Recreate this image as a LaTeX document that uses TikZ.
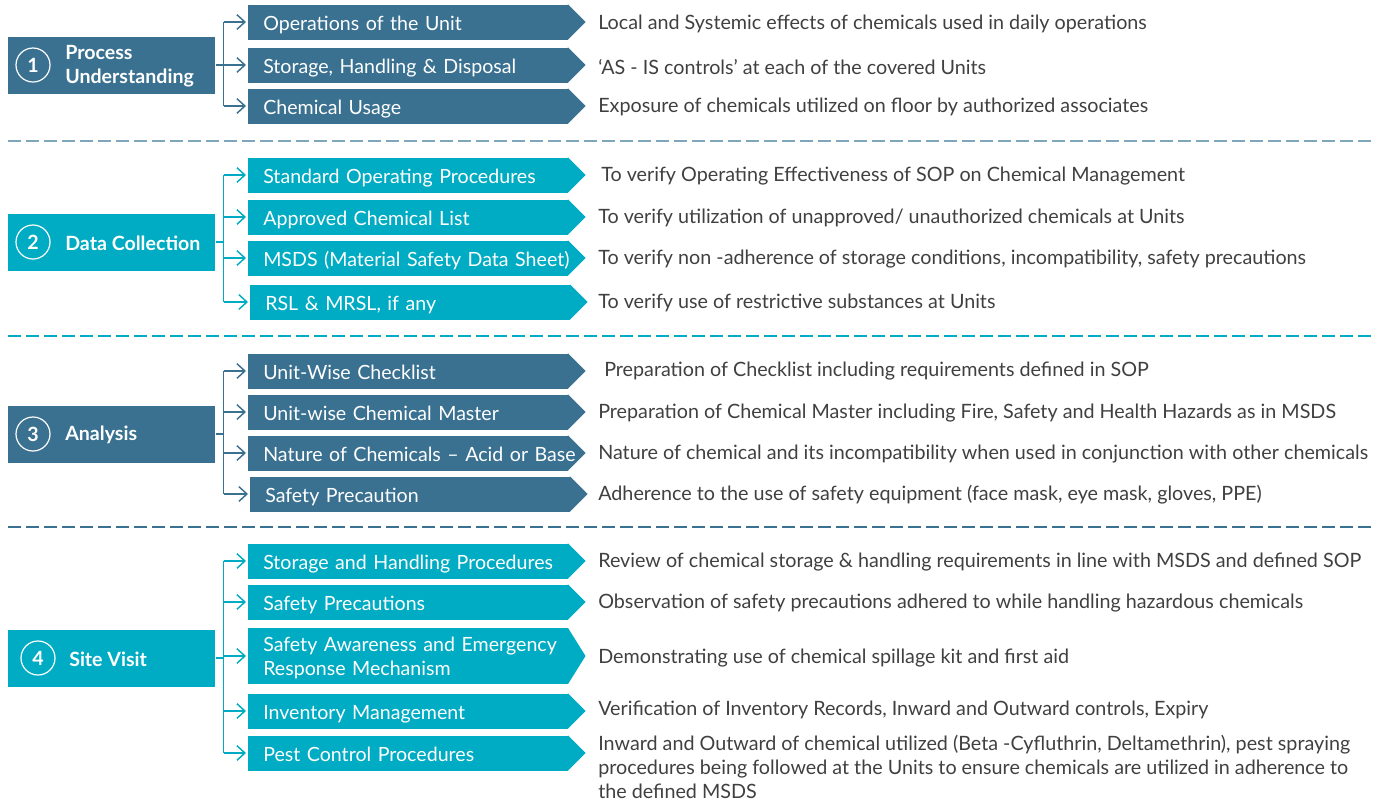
\documentclass[tikz,border=0pt]{standalone}
\usepackage{fontspec}
\setmainfont{Lato}
\usetikzlibrary{arrows.meta,backgrounds}
\definecolor{steelc}{HTML}{3A7191}
\definecolor{tealc}{HTML}{00ACC3}
\definecolor{sepc}{HTML}{7FA6BB}
\definecolor{txtc}{HTML}{404040}
\newcommand{\px}{0.75pt}
\tikzset{
  stage/.style={fill=#1, anchor=west, minimum width=207*\px, minimum height=57*\px, inner sep=0},
  num/.style={draw=white, line width=0.9pt, circle, minimum size=34*\px, inner sep=0, text=white, font=\fontsize{14.7}{18}\selectfont\bfseries},
  stagetext/.style={anchor=west, inner sep=0, text=white, align=left, font=\fontsize{14.7}{18}\selectfont\bfseries},
  subbox/.style={fill=#1, anchor=west, text=white, minimum height=35*\px, text width=290*\px, text height=12.8pt, text depth=0pt, inner xsep=15*\px, inner ysep=0, align=left, font=\fontsize{14.7}{18}\selectfont},
  desc/.style={anchor=west, inner sep=0, text=txtc, align=left, font=\fontsize{14.8}{18}\selectfont},
  conn/.style={draw=#1, line width=1.1pt},
  arr/.style={conn=#1, -{Straight Barb[length=6pt,width=11pt]}, shorten >=1.5pt},
  sep/.style={draw=#1, line width=1.5pt, dash pattern=on 9.75pt off 3.75pt}
}
\begin{document}
\begin{tikzpicture}[x=0.75pt,y=-0.75pt]
\useasboundingbox (0,0) rectangle (1387,801);
\foreach \y/\c in {141/sepc,336/tealc,527/steelc}
\draw[sep=\c] (8,\y) -- (1372,\y);

\node[stage=steelc] (p1) at (8,65) {};
\node[num] (n1) at (33,65) {1};
\node[stagetext] (l1) at (65,66) {Process\\Understanding};
\node[subbox=steelc] (a1) at (248,22) {Operations of the Unit};
\node[subbox=steelc] (a2) at (248,65) {Storage, Handling \& Disposal};
\node[subbox=steelc] (a3) at (248,106) {Chemical Usage};
\node[desc] (d1) at (598,24) {Local and Systemic effects of chemicals used in daily operations};
\node[desc] (d2) at (598,67) {‘AS - IS controls’ at each of the covered Units};
\node[desc] (d3) at (598,107) {Exposure of chemicals utilized on floor by authorized associates};

\node[stage=tealc] (p2) at (8,242) {};
\node[num] (n2) at (33,242) {2};
\node[stagetext] (l2) at (65,243) {Data Collection};
\node[subbox=tealc] (b1) at (248,175) {Standard Operating Procedures};
\node[subbox=tealc] (b2) at (248,217) {Approved Chemical List};
\node[subbox=tealc] (b3) at (248,258) {\mbox{MSDS (Material Safety Data Sheet)}};
\node[subbox=tealc] (b4) at (250,302) {RSL \& MRSL, if any};
\node[desc] (f1) at (601,176) {To verify Operating Effectiveness of SOP on Chemical Management};
\node[desc] (f2) at (598,218) {To verify utilization of unapproved/ unauthorized chemicals at Units};
\node[desc] (f3) at (598,259) {To verify non -adherence of storage conditions, incompatibility, safety precautions};
\node[desc] (f4) at (598,303) {To verify use of restrictive substances at Units};

\node[stage=steelc] (p3) at (8,434) {};
\node[num] (n3) at (33,434) {3};
\node[stagetext] (l3) at (65,435) {Analysis};
\node[subbox=steelc] (c1) at (248,371) {Unit-Wise Checklist};
\node[subbox=steelc] (c2) at (248,412) {Unit-wise Chemical Master};
\node[subbox=steelc] (c3) at (248,453) {\mbox{Nature of Chemicals – Acid or Base}};
\node[subbox=steelc] (c4) at (250,494) {Safety Precaution};
\node[desc] (g1) at (604,371) {Preparation of Checklist including requirements defined in SOP};
\node[desc] (g2) at (598,413) {Preparation of Chemical Master including Fire, Safety and Health Hazards as in MSDS};
\node[desc] (g3) at (598,454) {Nature of chemical and its incompatibility when used in conjunction with other chemicals};
\node[desc] (g4) at (598,495) {Adherence to the use of safety equipment (face mask, eye mask, gloves, PPE)};

\node[stage=tealc] (p4) at (8,658) {};
\node[num] (n4) at (38,658) {4};
\node[stagetext] (l4) at (69,659) {Site Visit};
\node[subbox=tealc] (e1) at (248,561) {Storage and Handling Procedures};
\node[subbox=tealc] (e2) at (248,602) {Safety Precautions};
\node[subbox=tealc, minimum height=56*\px, text depth=20.2pt] (e3) at (248,656) {\mbox{Safety Awareness and Emergency}\\Response Mechanism};
\node[subbox=tealc] (e4) at (248,711) {Inventory Management};
\node[subbox=tealc] (e5) at (248,753) {Pest Control Procedures};
\node[desc] (h1) at (598,562) {Review of chemical storage \& handling requirements in line with MSDS and defined SOP};
\node[desc] (h2) at (598,603) {Observation of safety precautions adhered to while handling hazardous chemicals};
\node[desc] (h3) at (598,658) {Demonstrating use of chemical spillage kit and first aid};
\node[desc] (h4) at (598,710) {Verification of Inventory Records, Inward and Outward controls, Expiry};
\node[desc] (h5) at (598,767) {Inward and Outward of chemical utilized (Beta -Cyfluthrin, Deltamethrin), pest spraying\\procedures being followed at the Units to ensure chemicals are utilized in adherence to\\the defined MSDS};

\begin{scope}[on background layer]
\foreach \n/\c in {a1/steelc,a2/steelc,a3/steelc,b1/tealc,b2/tealc,b3/tealc,b4/tealc,c1/steelc,c2/steelc,c3/steelc,c4/steelc,e1/tealc,e2/tealc,e3/tealc,e4/tealc,e5/tealc}
\fill[\c] ([xshift=-0.5pt]\n.north east) -- ([xshift=12.75pt]\n.east) -- ([xshift=-0.5pt]\n.south east) -- cycle;
\end{scope}

\draw[conn=steelc] (p1.east) -- ++(8,0) coordinate (j1);
\draw[conn=steelc] (j1 |- a1.west) -- (j1 |- a3.west);
\foreach \n in {a1,a2,a3}
\draw[arr=steelc] (j1 |- \n.west) -- (\n.west);

\draw[conn=tealc] (p2.east) -- ++(8,0) coordinate (j2);
\draw[conn=tealc] (j2 |- b1.west) -- (j2 |- b4.west);
\foreach \n in {b1,b2,b3,b4}
\draw[arr=tealc] (j2 |- \n.west) -- (\n.west);

\draw[conn=steelc] (p3.east) -- ++(8,0) coordinate (j3);
\draw[conn=steelc] (j3 |- c1.west) -- (j3 |- c4.west);
\foreach \n in {c1,c2,c3,c4}
\draw[arr=steelc] (j3 |- \n.west) -- (\n.west);

\draw[conn=tealc] (p4.east) -- ++(8,0) coordinate (j4);
\draw[conn=tealc] (j4 |- e1.west) -- (j4 |- e5.west);
\foreach \n in {e1,e2,e3,e4,e5}
\draw[arr=tealc] (j4 |- \n.west) -- (\n.west);
\end{tikzpicture}
\end{document}
